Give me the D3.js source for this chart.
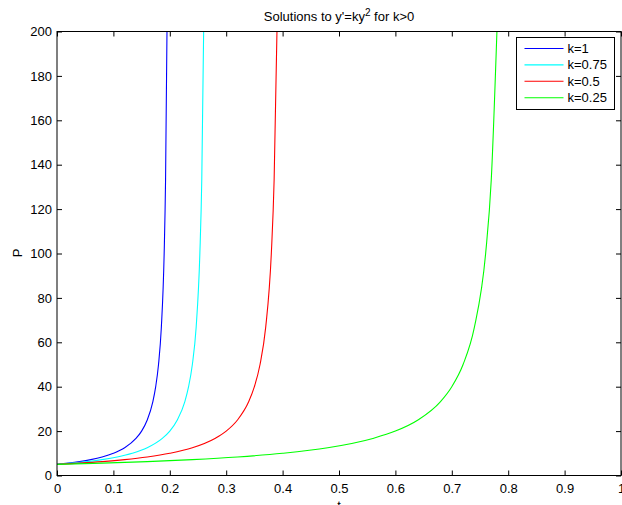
<!DOCTYPE html>
<html>
<head>
<meta charset="utf-8">
<script src="https://cdn.jsdelivr.net/npm/d3@7"></script>
<style>
  body { margin: 0; background: #fff; }
  svg { display: block; font-family: "Liberation Sans", Arial, sans-serif; }
</style>
</head>
<body>
<div id="chart"></div>
<script>
// P values (same shape, stretched in t)
const pValues = [5, 5.56, 6.25, 7.14, 8.33, 10, 12.5, 16.7, 20, 25, 33.3, 40, 50, 66.7, 100, 133.3, 200];
const tK1 = [0, 0.02, 0.04, 0.06, 0.08, 0.1, 0.12, 0.14, 0.15, 0.16, 0.17, 0.175, 0.18, 0.185, 0.19, 0.1925, 0.195];
const tK075 = [0, 0.0267, 0.0533, 0.08, 0.1067, 0.1333, 0.16, 0.1867, 0.2, 0.2133, 0.2267, 0.2333, 0.24, 0.2467, 0.2533, 0.2567, 0.26];
const tK05 = [0, 0.04, 0.08, 0.12, 0.16, 0.2, 0.24, 0.28, 0.3, 0.32, 0.34, 0.35, 0.36, 0.37, 0.38, 0.385, 0.39];
const tK025 = [0, 0.08, 0.16, 0.24, 0.32, 0.4, 0.48, 0.56, 0.6, 0.64, 0.68, 0.7, 0.72, 0.74, 0.76, 0.77, 0.78];

const seriesNames = ["k=1", "k=0.75", "k=0.5", "k=0.25"];
const seriesT = [tK1, tK075, tK05, tK025];
const colors = ["#0000ff", "#00ffff", "#ff0000", "#00ff00"];

const xTicks = [0, 0.1, 0.2, 0.3, 0.4, 0.5, 0.6, 0.7, 0.8, 0.9, 1];
const yTicks = [0, 20, 40, 60, 80, 100, 120, 140, 160, 180, 200];

const width = 622, height = 505;
const plotLeft = 57, plotRight = 621, plotTop = 31.5, plotBottom = 475.5;

const svg = d3.select("#chart")
  .append("svg")
  .attr("width", width)
  .attr("height", height);

// Echelles
const x = d3.scaleLinear().domain([0, 1]).range([plotLeft, plotRight]);
const y = d3.scaleLinear().domain([0, 200]).range([plotBottom, plotTop]);

svg.append("defs").append("clipPath")
  .attr("id", "plot")
  .append("rect")
  .attr("x", plotLeft).attr("y", plotTop)
  .attr("width", plotRight - plotLeft).attr("height", plotBottom - plotTop);

// Courbes
const line = d3.line()
  .x(d => x(d[0]))
  .y(d => y(d[1]))
  .curve(d3.curveMonotoneX);

seriesT.forEach((ts, i) => {
  svg.append("path")
    .datum(ts.map((t, j) => [t, pValues[j]]))
    .attr("clip-path", "url(#plot)")
    .attr("fill", "none")
    .attr("stroke", colors[i])
    .attr("stroke-width", 1.1)
    .attr("d", line);
});

// Axes (ticks vers l'intérieur)
const fmt = d => d === 0 || d === 1 ? String(d) : d3.format(".1f")(d);

svg.append("g")
  .attr("transform", `translate(0, ${plotBottom})`)
  .call(d3.axisBottom(x).tickValues(xTicks).tickFormat(fmt)
    .tickSizeInner(-5).tickSizeOuter(0).tickPadding(8));

svg.append("g")
  .attr("transform", `translate(${plotLeft}, 0)`)
  .call(d3.axisLeft(y).tickValues(yTicks)
    .tickSizeInner(-5).tickSizeOuter(0).tickPadding(5));

svg.append("g")
  .attr("transform", `translate(0, ${plotTop})`)
  .call(d3.axisTop(x).tickValues(xTicks).tickFormat("")
    .tickSizeInner(-5).tickSizeOuter(0));

svg.append("g")
  .attr("transform", `translate(${plotRight}, 0)`)
  .call(d3.axisRight(y).tickValues(yTicks).tickFormat("")
    .tickSizeInner(-5).tickSizeOuter(0));

svg.selectAll(".domain").remove();
svg.selectAll(".tick line").attr("stroke", "#000");
svg.selectAll(".tick text")
  .attr("fill", "#000")
  .style("font-size", "13px")
  .style("font-family", "'Liberation Sans', Arial, sans-serif");

// Cadre
svg.append("rect")
  .attr("x", plotLeft).attr("y", plotTop)
  .attr("width", plotRight - plotLeft).attr("height", plotBottom - plotTop)
  .attr("fill", "none")
  .attr("stroke", "#000")
  .attr("stroke-width", 1);

// Titre
const title = svg.append("text")
  .attr("x", (plotLeft + plotRight) / 2)
  .attr("y", 21)
  .attr("text-anchor", "middle")
  .style("font-size", "13px");
title.append("tspan").text("Solutions to y'=ky");
title.append("tspan").attr("dy", -5).style("font-size", "10px").text("2");
title.append("tspan").attr("dy", 5).text(" for k>0");

// Légendes des axes
svg.append("text")
  .attr("x", (plotLeft + plotRight) / 2)
  .attr("y", 510)
  .attr("text-anchor", "middle")
  .style("font-size", "13px")
  .text("t");

svg.append("text")
  .attr("transform", "rotate(-90)")
  .attr("x", -253)
  .attr("y", 22)
  .attr("text-anchor", "middle")
  .style("font-size", "13px")
  .text("P");

// Légende
const lx = 516.5, ly = 37.5, lw = 98, lh = 72;
const legend = svg.append("g");
legend.append("rect")
  .attr("x", lx).attr("y", ly)
  .attr("width", lw).attr("height", lh)
  .attr("fill", "#fff")
  .attr("stroke", "#000");

seriesNames.forEach((name, i) => {
  const yy = ly + 11 + i * 16.4;
  legend.append("line")
    .attr("x1", lx + 8).attr("x2", lx + 47)
    .attr("y1", yy).attr("y2", yy)
    .attr("stroke", colors[i])
    .attr("stroke-width", 1.1);
  legend.append("text")
    .attr("x", lx + 51)
    .attr("y", yy + 4.5)
    .style("font-size", "13px")
    .text(name);
});
</script>
</body>
</html>
